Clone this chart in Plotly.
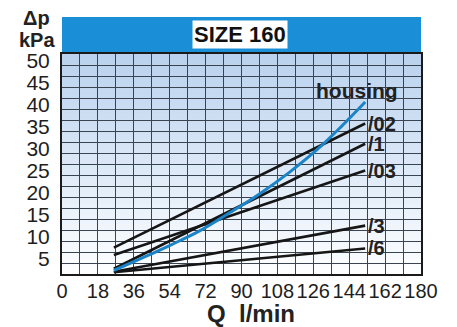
import plotly.graph_objects as go

# ---- data ----
x_ticks = [0, 18, 36, 54, 72, 90, 108, 126, 144, 162, 180]
y_ticks = [5, 10, 15, 20, 25, 30, 35, 40, 45, 50]

housing_q = [26, 40, 55, 69, 84, 99, 114, 128, 140, 152]
housing_dp = [0.8, 3.6, 6.7, 9.8, 13.9, 18.2, 23.1, 28.3, 33.5, 39.1]

q_02 = [26, 152]
dp_02 = [6.0, 34.2]
q_1 = [26, 152]
dp_1 = [1.2, 29.6]
q_03 = [26, 152]
dp_03 = [4.3, 23.5]
q_3 = [26, 152]
dp_3 = [0.5, 11.0]
q_6 = [26, 152]
dp_6 = [0.4, 5.8]

series_names = ["/02", "/1", "/03", "/3", "/6"]
series_q = [q_02, q_1, q_03, q_3, q_6]
series_dp = [dp_02, dp_1, dp_03, dp_3, dp_6]

title_text = "SIZE 160"
x_title = "Q\u00a0 l/min"

# ---- layout geometry (screen pixels; page body adds an 8px offset) ----
OFF = 8
W, H = 457 - OFF, 327 - OFF
PL, PR, PT, PB = 62, 421, 54, 274          # plot edges on screen
ML, MR, MT, MB = PL - OFF, W - (PR - OFF), PT - OFF, H - (PB - OFF)
PW, PH = PR - PL, PB - PT


def px_to_paper_x(px):
    return (px - PL) / PW


def px_to_paper_y(py):
    return (PB - py) / PH


fig = go.Figure()

black = "#161616"
for name, q, dp in zip(series_names, series_q, series_dp):
    fig.add_trace(go.Scatter(x=q, y=dp, mode="lines", name=name,
                             line=dict(color=black, width=2.6), hoverinfo="skip"))
fig.add_trace(go.Scatter(x=housing_q, y=housing_dp, mode="lines", name="housing",
                         line=dict(color="#1b84c8", width=3, shape="spline"),
                         hoverinfo="skip"))

shapes = []
# vertical gradient background (light blue at top -> white at bottom)
nb = 44
top = (186, 210, 238)
bot = (253, 254, 255)
for i in range(nb):
    t = i / (nb - 1)
    c = tuple(round(top[k] + (bot[k] - top[k]) * t) for k in range(3))
    shapes.append(dict(type="rect", xref="paper", yref="paper", x0=0, x1=1,
                       y0=1 - (i + 1) / nb, y1=1 - i / nb, layer="below",
                       line=dict(width=0), fillcolor="rgb(%d,%d,%d)" % c))
# header bar
shapes.append(dict(type="rect", xref="paper", yref="paper", x0=0, x1=1,
                   y0=px_to_paper_y(52), y1=px_to_paper_y(17),
                   line=dict(width=0), fillcolor="rgb(26,142,214)"))

annotations = []
annotations.append(dict(text="<b>%s</b>" % title_text, xref="paper", yref="paper",
                        x=px_to_paper_x(240), y=px_to_paper_y(35),
                        xanchor="center", yanchor="middle", showarrow=False,
                        bgcolor="white", borderpad=1,
                        font=dict(family="Liberation Sans", size=22, color="#111")))
annotations.append(dict(text="<b>\u0394p</b>", xref="paper", yref="paper",
                        x=px_to_paper_x(36), y=px_to_paper_y(18),
                        xanchor="center", yanchor="middle", showarrow=False,
                        font=dict(family="Liberation Sans", size=20, color="#222")))
annotations.append(dict(text="<b>kPa</b>", xref="paper", yref="paper",
                        x=px_to_paper_x(37), y=px_to_paper_y(40),
                        xanchor="center", yanchor="middle", showarrow=False,
                        font=dict(family="Liberation Sans", size=20, color="#222")))
annotations.append(dict(text="<b>%s</b>" % x_title, xref="paper", yref="paper",
                        x=px_to_paper_x(251), y=px_to_paper_y(313),
                        xanchor="center", yanchor="middle", showarrow=False,
                        font=dict(family="Liberation Sans", size=24, color="#222")))
for name, q, dp in zip(series_names, series_q, series_dp):
    annotations.append(dict(text="<b>%s</b>" % name, x=q[-1], y=dp[-1],
                            xref="x", yref="y", xanchor="left", yanchor="middle",
                            xshift=1, showarrow=False,
                            font=dict(family="Liberation Sans", size=20, color="#222")))
annotations.append(dict(text="<b>housing</b>", x=housing_q[-1], y=housing_dp[-1],
                        xref="x", yref="y", xanchor="center", yanchor="bottom",
                        xshift=-8, yshift=-2, showarrow=False,
                        font=dict(family="Liberation Sans", size=21, color="#222")))

grid_c = "#3a4350"
fig.update_layout(
    width=W, height=H, autosize=False,
    margin=dict(l=ML, r=MR, t=MT, b=MB, pad=0),
    paper_bgcolor="white", plot_bgcolor="white",
    showlegend=False,
    shapes=shapes, annotations=annotations,
    xaxis=dict(range=[0, 180], tickvals=x_ticks, ticktext=[str(v) for v in x_ticks],
               automargin=False, tickangle=0,
               showgrid=True, gridcolor=grid_c, gridwidth=1.3,
               minor=dict(dtick=9, tick0=0, showgrid=True, gridcolor=grid_c, gridwidth=1.3),
               showline=True, linecolor="#1a1a1a", linewidth=2, mirror=True,
               ticks="", zeroline=False, ticklabelstandoff=-2,
               tickfont=dict(family="Liberation Sans", size=20, color="#1e1e1e")),
    yaxis=dict(range=[0, 50], tickvals=y_ticks, ticktext=[str(v) for v in y_ticks],
               automargin=False,
               showgrid=True, gridcolor=grid_c, gridwidth=1.3,
               minor=dict(dtick=2.5, tick0=0, showgrid=True, gridcolor=grid_c, gridwidth=1.3),
               showline=True, linecolor="#1a1a1a", linewidth=2, mirror=True,
               ticks="", zeroline=False, ticklabelstandoff=6, ticklabelshift=7,
               tickfont=dict(family="Liberation Sans", size=21, color="#1e1e1e")),
)

fig.write_html("out.html")
